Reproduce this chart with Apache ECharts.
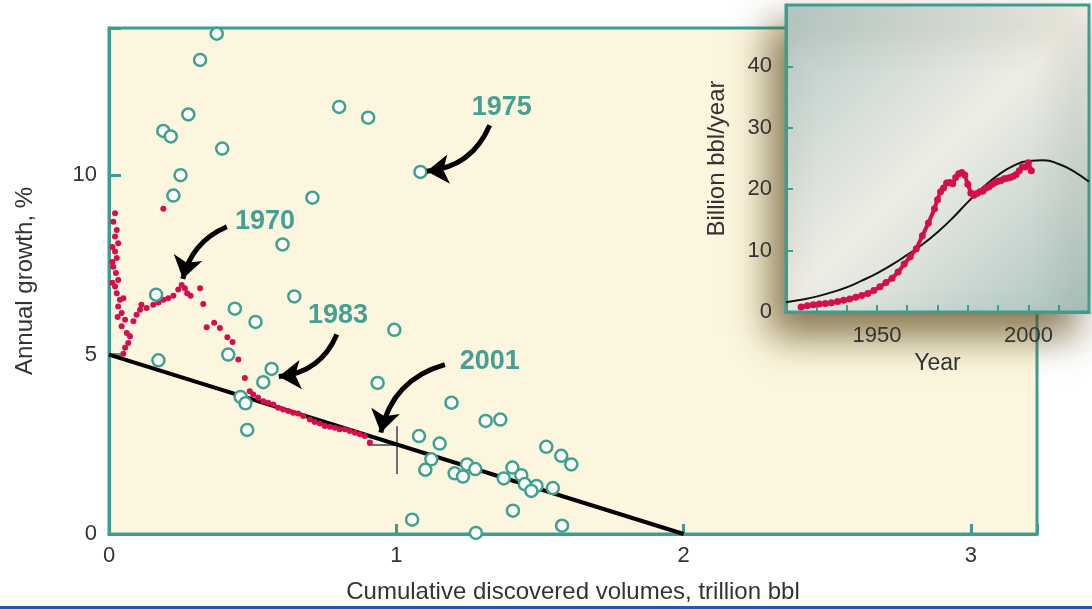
<!DOCTYPE html>
<html><head><meta charset="utf-8">
<script src="https://cdn.jsdelivr.net/npm/echarts@6/dist/echarts.min.js"></script>
<style>html,body{margin:0;padding:0;background:#fff}#c{width:1092px;height:609px}</style>
</head><body><div id="c"></div>
<script>
// ---------- main chart data ----------
const xTickLabels = [0, 1, 2, 3];
const yTickLabels = [0, 5, 10];
// hollow teal circles: [cumulative discovered volume (trillion bbl), annual growth %]
const fieldPoints = [
  [0.375,13.94],[0.317,13.21],[0.276,11.69],[0.189,11.23],[0.215,11.08],[0.394,10.74],
  [0.801,11.90],[0.902,11.60],[0.249,10.00],[0.224,9.43],[0.708,9.37],[0.604,8.07],
  [0.645,6.62],[0.164,6.67],[1.084,10.09],[0.438,6.28],[0.510,5.91],[0.993,5.69],
  [0.172,4.84],[0.415,5.00],[0.566,4.60],[0.537,4.23],[0.935,4.21],[0.458,3.82],
  [0.475,3.64],[0.481,2.90],[1.192,3.66],[1.311,3.15],[1.362,3.19],[1.079,2.73],
  [1.151,2.52],[1.522,2.43],[1.574,2.18],[1.609,1.94],[1.122,2.08],[1.101,1.79],
  [1.246,1.94],[1.275,1.81],[1.203,1.69],[1.232,1.60],[1.404,1.85],[1.435,1.64],
  [1.374,1.55],[1.447,1.39],[1.488,1.34],[1.470,1.20],[1.545,1.28],[1.406,0.65],
  [1.055,0.40],[1.277,0.03],[1.577,0.23]
];
// red dots: yearly growth path
const growthPoints = [
  [0.021,8.94],[0.015,8.70],[0.027,8.47],[0.021,8.29],[0.032,8.10],[0.012,8.00],[0.021,7.87],
  [0.027,7.69],[0.012,7.58],[0.015,7.45],[0.024,7.27],[0.032,7.08],[0.012,7.00],[0.021,6.90],
  [0.027,6.71],[0.038,6.53],[0.050,6.57],[0.032,6.34],[0.044,6.16],[0.030,6.05],[0.056,5.97],
  [0.044,5.79],[0.062,5.60],[0.073,5.51],[0.067,5.32],[0.056,5.19],[0.050,5.02],
  [0.085,5.93],[0.096,6.11],[0.108,6.25],[0.113,6.39],[0.131,6.30],[0.154,6.39],[0.172,6.45],
  [0.189,6.53],[0.206,6.57],[0.224,6.64],[0.241,6.81],[0.253,6.94],[0.264,6.85],[0.272,6.71],
  [0.284,6.64],[0.317,6.85],[0.328,6.41],[0.340,5.76],[0.366,5.89],[0.386,5.74],[0.412,5.48],
  [0.430,5.35],[0.450,4.86],[0.473,4.35],[0.490,3.98],[0.189,9.06],
  [0.502,3.89],[0.519,3.80],[0.537,3.70],[0.554,3.66],[0.572,3.61],[0.589,3.52],[0.606,3.47],
  [0.624,3.43],[0.641,3.38],[0.658,3.36],[0.676,3.29],[0.699,3.19],[0.716,3.12],[0.734,3.08],
  [0.751,3.01],[0.769,2.99],[0.786,2.96],[0.803,2.92],[0.821,2.92],[0.838,2.87],[0.856,2.82],
  [0.873,2.78],[0.890,2.73],[0.908,2.55]
];
const trendLine = [[0, 5], [2, 0]];
const cross2001V = [[1.0, 3.0], [1.0, 1.67]];
const cross2001H = [[0.9, 2.5], [1.0, 2.5]];
// year annotations (data coordinates)
const annotationLabels = ['1970', '1975', '1983', '2001'];
const annotationTextAt = [[0.543,8.72],[1.367,11.89],[0.797,6.08],[1.325,4.81]];
const arrowTails = [[0.410,8.56],[1.325,11.39],[0.793,5.56],[1.169,4.72]];
const arrowHeads = [[0.257,7.11],[1.106,10.11],[0.591,4.39],[0.946,2.83]];
const arrowBend = [-0.25, 0.3, 0.3, -0.3];

// ---------- inset data ----------
const insetYTicks = [0, 10, 20, 30, 40];
const insetXLabels = [1950, 2000];
const curveYears = [1920,1925,1930,1935,1940,1945,1950,1955,1960,1965,1970,1975,1980,1985,1990,1995,2000,2005,2010,2015,2020];
const curveRate  = [1.6,2.0,2.5,3.2,4.0,5.1,6.3,7.7,9.3,11.0,13.0,15.3,17.9,20.3,22.3,23.8,24.6,24.7,24.1,22.9,21.2];
const prodYears = [1925,1927,1929,1931,1933,1935,1937,1939,1941,1943,1945,1947,1949,1951,1953,1955,1957,1959,1961,1963,1965,1967,1969,1970,1971,1972,1973,1974,1975,1976,1977,1978,1979,1980,1981,1982,1983,1984,1985,1986,1987,1988,1989,1990,1991,1992,1993,1994,1995,1996,1997,1998,1999,2000,2001];
const prodRate  = [0.8,1.0,1.2,1.3,1.4,1.5,1.7,1.9,2.1,2.4,2.7,3.0,3.5,4.1,4.8,5.5,6.5,7.8,9.0,10.3,12.4,14.5,16.8,18.3,19.6,20.2,21.0,21.1,20.9,21.9,22.5,22.7,22.3,20.8,19.4,19.0,19.3,19.6,19.7,20.2,20.4,20.8,21.1,21.3,21.4,21.7,21.8,21.9,22.1,22.4,23.0,23.6,23.6,24.3,23.0];

const TEAL = '#3d9d8f';
const TXT = '#333333';
const RED = '#d40f4e';
const FONT = 'Liberation Sans, Arial, Helvetica, sans-serif';

const chart = echarts.init(document.getElementById('c'), null, {renderer: 'canvas'});
chart.setOption({
  animation: false,
  backgroundColor: '#ffffff',
  textStyle: {fontFamily: FONT},
  graphic: [{type: 'rect', left: 0, bottom: 0, shape: {width: 1092, height: 3}, style: {fill: '#2a55b5'}, z: 100}],
  grid: [
    {left: 109, top: 28, width: 928, height: 507, show: true, backgroundColor: '#fcf6de',
     borderColor: TEAL, borderWidth: 3, z: 0},
    {left: 786, top: 5, width: 305, height: 307, show: true,
     backgroundColor: {type: 'linear', x: 0, y: 0, x2: 1, y2: 1, colorStops: [
       {offset: 0, color: '#b4c9c5'}, {offset: 0.5, color: '#eeede5'}, {offset: 1, color: '#a9c3bf'}]},
     borderColor: TEAL, borderWidth: 3,
     shadowBlur: 36, shadowColor: 'rgba(95,75,30,0.75)', shadowOffsetX: -14, shadowOffsetY: 22, z: 3}
  ],
  xAxis: [
    {gridIndex: 0, type: 'value', min: 0, max: 3.23, interval: 1,
     axisLine: {show: true, lineStyle: {color: TEAL, width: 3}},
     axisTick: {show: true, inside: true, length: 10, lineStyle: {color: TEAL, width: 3}},
     splitLine: {show: false},
     axisLabel: {margin: 11, fontSize: 22, color: TXT,
       formatter: v => xTickLabels.indexOf(v) >= 0 ? String(v) : ''},
     name: 'Cumulative discovered volumes, trillion bbl', nameLocation: 'middle', nameGap: 46,
     nameTextStyle: {fontSize: 24, color: TXT}},
    {gridIndex: 1, type: 'value', min: 1920, max: 2020, interval: 10, z: 4,
     axisLine: {show: true, lineStyle: {color: TEAL, width: 3}},
     axisTick: {show: true, inside: true, length: 7, lineStyle: {color: TEAL, width: 2}},
     splitLine: {show: false},
     axisLabel: {margin: 13, fontSize: 22, color: TXT,
       formatter: v => insetXLabels.indexOf(v) >= 0 ? String(v) : ''},
     name: 'Year', nameLocation: 'middle', nameGap: 35, nameTextStyle: {fontSize: 23, color: TXT}}
  ],
  yAxis: [
    {gridIndex: 0, type: 'value', min: 0, max: 14.1, interval: 5,
     axisLine: {show: true, lineStyle: {color: TEAL, width: 3}},
     axisTick: {show: true, inside: true, length: 12, lineStyle: {color: TEAL, width: 3}},
     splitLine: {show: false},
     axisLabel: {margin: 12, fontSize: 22, color: TXT,
       formatter: v => yTickLabels.indexOf(v) >= 0 ? String(v) : ''},
     name: 'Annual growth, %', nameLocation: 'middle', nameGap: 72,
     nameTextStyle: {fontSize: 24, color: TXT}},
    {gridIndex: 1, type: 'value', min: 0, max: 50, interval: 10, z: 4,
     axisLine: {show: true, lineStyle: {color: TEAL, width: 3}},
     axisTick: {show: true, inside: true, length: 7, lineStyle: {color: TEAL, width: 2}},
     splitLine: {show: false},
     axisLabel: {margin: 14, fontSize: 22, color: TXT,
       formatter: v => insetYTicks.indexOf(v) >= 0 ? String(v) : ''},
     name: 'Billion bbl/year', nameLocation: 'middle', nameGap: 57,
     nameTextStyle: {fontSize: 24, color: TXT}}
  ],
  series: [
    {type: 'lines', coordinateSystem: 'cartesian2d', xAxisIndex: 0, yAxisIndex: 0, z: 2,
     lineStyle: {color: '#6e6e6e', width: 2, opacity: 1}, silent: true,
     data: [{coords: cross2001V}, {coords: cross2001H}]},
    {type: 'line', xAxisIndex: 0, yAxisIndex: 0, z: 3, data: trendLine, showSymbol: false,
     symbol: 'none', lineStyle: {color: '#000', width: 4}},
    {type: 'scatter', xAxisIndex: 0, yAxisIndex: 0, z: 4, data: growthPoints,
     symbol: 'circle', symbolSize: 6, itemStyle: {color: RED, opacity: 1}},
    {type: 'scatter', xAxisIndex: 0, yAxisIndex: 0, z: 5, data: fieldPoints,
     symbol: 'circle', symbolSize: 12, itemStyle: {color: '#fffef8', borderColor: '#3fa191', borderWidth: 2.5, opacity: 1}},
    {type: 'lines', coordinateSystem: 'cartesian2d', xAxisIndex: 0, yAxisIndex: 0, z: 6,
     symbol: ['none', 'arrow'], symbolSize: [1, 22],
     lineStyle: {color: '#000', width: 5, opacity: 1},
     data: annotationLabels.map((l, i) => ({coords: [arrowTails[i], arrowHeads[i]], lineStyle: {curveness: arrowBend[i]}}))},
    {type: 'scatter', xAxisIndex: 0, yAxisIndex: 0, z: 7, symbol: 'circle', symbolSize: 0,
     itemStyle: {color: 'rgba(0,0,0,0)'},
     label: {show: true, position: 'inside', formatter: '{b}', fontSize: 27, fontWeight: 'bold', color: '#168a80'},
     data: annotationLabels.map((l, i) => ({name: l, value: annotationTextAt[i]}))},
    {type: 'line', xAxisIndex: 1, yAxisIndex: 1, z: 10, smooth: true, symbol: 'none',
     data: curveYears.map((y, i) => [y, curveRate[i]]), lineStyle: {color: '#111', width: 2}},
    {type: 'line', xAxisIndex: 1, yAxisIndex: 1, z: 11, symbol: 'circle', symbolSize: 7, showSymbol: true,
     data: prodYears.map((y, i) => [y, prodRate[i]]), itemStyle: {color: RED, opacity: 1}, lineStyle: {color: RED, width: 4}}
  ]
});
</script></body></html>
